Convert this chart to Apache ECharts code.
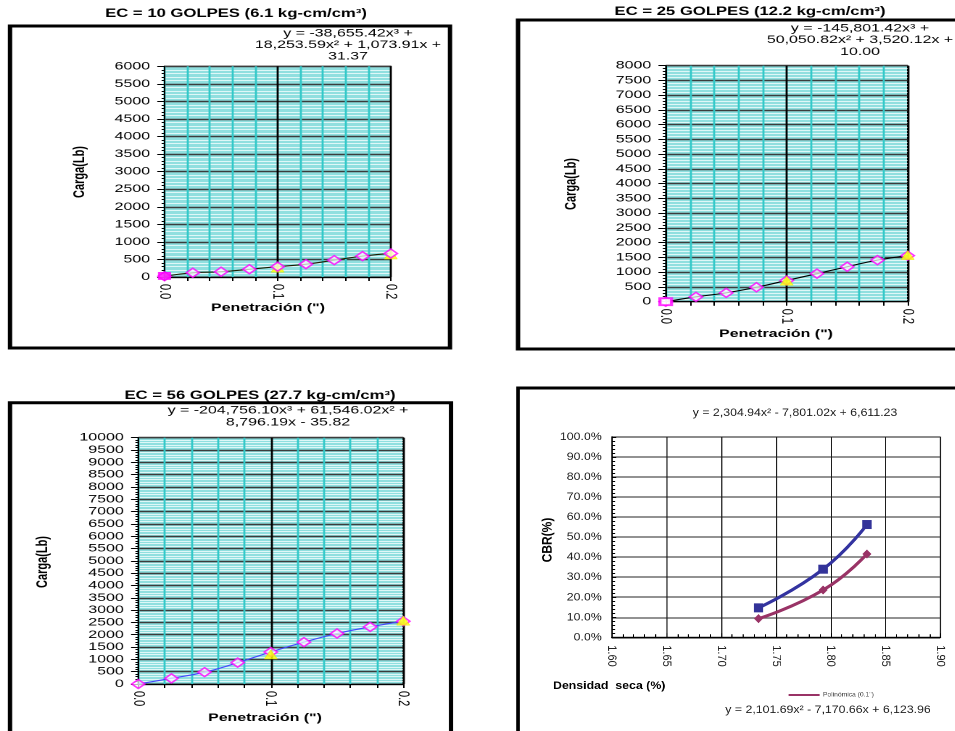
<!DOCTYPE html>
<html>
<head>
<meta charset="utf-8">
<script src="https://cdn.jsdelivr.net/npm/echarts@6/dist/echarts.min.js"></script>
<style>
  html, body { margin: 0; padding: 0; background: #fff; width: 955px; height: 731px; overflow: hidden; }
  .panel { position: absolute; left: 0; top: 0; height: 731px; transform-origin: 0 0; }
</style>
</head>
<body>
<div id="p10" class="panel"></div>
<div id="p25" class="panel"></div>
<div id="p56" class="panel"></div>
<div id="pcbr" class="panel"></div>
<script>
// Penetration readings (in) for the three compaction energies
const penetration = [0, 0.025, 0.05, 0.075, 0.1, 0.125, 0.15, 0.175, 0.2];
// Load (lb) read at each penetration
const carga10 = [20, 120, 150, 220, 295, 365, 480, 595, 670];
const carga25 = [0, 165, 300, 490, 720, 950, 1185, 1410, 1560];
const carga56 = [0, 230, 480, 866, 1300, 1700, 2050, 2320, 2550];
// Corrected loads at the standard penetrations 0.1" and 0.2"
const penStandard = [0.1, 0.2];
const corr10 = [265, 640];
const corr25 = [710, 1580];
const corr56 = [1200, 2570];
// Origin reading
const origen10 = [0, 30];
const origen25 = [0, 0];
// CBR versus dry density
const densidadSeca = [1.734, 1.793, 1.833];
const cbr02 = [0.147, 0.340, 0.563];
const cbr01 = [0.093, 0.236, 0.416];
// Tick labels shown on the penetration axis
const penTickLabels = ['0.0', '0.1', '0.2'];

const FONT = '"Liberation Sans", Arial, Helvetica, sans-serif';

function txt(text, x, y, size, bold, extra) {
  const st = Object.assign({
    text: text, x: 0, y: 0,
    font: (bold ? 'bold ' : '') + size + 'px ' + FONT,
    fill: '#000',
    align: 'center', verticalAlign: 'middle',
    textAlign: 'center', textVerticalAlign: 'middle'
  }, extra || {});
  return { type: 'text', x: x, y: y, z: 100, style: st };
}

function penChart(id, s, p) {
  const el = document.getElementById(id);
  el.style.width = (955 / s) + 'px';
  el.style.transform = 'scaleX(' + s + ')';
  const chart = echarts.init(el, null, { renderer: 'canvas', devicePixelRatio: 2 });
  const X = v => v / s;

  const vColors = Array.from({ length: 11 }, (_, i) => (i === 5 || i === 10) ? '#000' : '#33c9c9');

  const graphic = [
    { type: 'rect', z: 100, shape: { x: X(p.frame[0]), y: p.frame[1], width: X(p.frame[2]), height: p.frame[3] },
      style: { fill: 'none', stroke: '#000', lineWidth: 3 } },
    txt(p.title, X(p.titlePos[0]), p.titlePos[1], 11.5, true),
    txt('Carga(Lb)', X(p.yTitle[0]), p.yTitle[1], 11, true, {}),
    txt('Penetración (")', X(p.xTitle[0]), p.xTitle[1], 11, true)
  ];
  graphic[2].rotation = Math.PI / 2;
  p.eq.forEach((line, i) => graphic.push(txt(line, X(p.eqPos[0]), p.eqPos[1][i], 11, false)));

  const series = [
    {
      type: 'line', name: 'tendencia', smooth: true, showSymbol: false, symbol: 'none', z: 2,
      data: penetration.map((x, i) => [x, p.carga[i]]),
      lineStyle: { color: p.lineColor, width: 1.1 }
    },
    {
      type: 'scatter', name: 'corregida', z: p.triOnTop ? 6 : 3,
      symbol: 'triangle', symbolSize: [9, 9],
      data: penStandard.map((x, i) => [x, p.corr[i]]),
      itemStyle: { color: '#ffff00', borderColor: '#e6e600', borderWidth: 0.5 }
    },
    {
      type: 'scatter', name: 'lectura', z: 4,
      symbol: 'diamond', symbolSize: [9, 9],
      data: penetration.map((x, i) => [x, p.carga[i]]),
      itemStyle: { color: 'rgba(255,255,255,0.9)', borderColor: '#ff00ff', borderWidth: 1.4 }
    }
  ];
  if (p.origen) {
    series.push({
      type: 'scatter', name: 'origen', z: 5, symbol: 'rect', symbolSize: [8, 7],
      data: [p.origen],
      itemStyle: p.origenFilled
        ? { color: '#ff00ff', borderColor: '#ff00ff', borderWidth: 1 }
        : { color: '#fff', borderColor: '#ff00ff', borderWidth: 2 }
    });
  }

  chart.setOption({
    animation: false,
    backgroundColor: 'transparent',
    graphic: graphic,
    grid: {
      left: X(p.grid[0]), top: p.grid[1], width: X(p.grid[2]), height: p.grid[3],
      show: true, backgroundColor: '#90dfdf', borderColor: '#000', borderWidth: 1,
      outerBoundsMode: 'none', containLabel: false
    },
    xAxis: {
      type: 'value', min: 0, max: 0.2, interval: 0.02,
      axisLine: { show: true, onZero: false, lineStyle: { color: '#000', width: 1 } },
      axisTick: { show: true, length: 4, lineStyle: { color: '#000' } },
      axisLabel: {
        rotate: -90, margin: 7, fontSize: 11, fontFamily: FONT, color: '#000',
        formatter: v => {
          const k = Math.round(v * 10);
          return Math.abs(v * 10 - k) < 1e-6 ? penTickLabels[k] : '';
        }
      },
      splitLine: { show: true, lineStyle: { color: vColors, width: 1.4 } }
    },
    yAxis: {
      type: 'value', min: 0, max: p.ymax, interval: 500,
      axisLine: { show: true, lineStyle: { color: '#000', width: 1 } },
      axisTick: { show: true, length: 5, lineStyle: { color: '#000' } },
      minorTick: { show: true, splitNumber: 5, length: 2, lineStyle: { color: '#000' } },
      axisLabel: { margin: 10, fontSize: 11, fontFamily: FONT, color: '#000', formatter: v => String(v) },
      splitLine: { show: true, lineStyle: { color: '#3c3c3c', width: 1.4 } },
      minorSplitLine: { show: true, lineStyle: { color: '#def7f7', width: 1.1 } }
    },
    series: series
  });
}

penChart('p10', 1.45, {
  frame: [10, 26, 440, 322],
  title: 'EC = 10 GOLPES (6.1 kg-cm/cm³)', titlePos: [236, 14],
  eq: ['y = -38,655.42x³ +', '18,253.59x² + 1,073.91x +', '31.37'], eqPos: [348, [33.5, 44.8, 56.5]],
  grid: [164.5, 66.3, 226.3, 210.7], ymax: 6000,
  yTitle: [80, 172], xTitle: [268, 308],
  carga: carga10, corr: corr10, lineColor: '#1c1c00', triOnTop: false,
  origen: origen10, origenFilled: true
});

penChart('p25', 1.45, {
  frame: [518, 20, 500, 329],
  title: 'EC = 25 GOLPES (12.2 kg-cm/cm³)', titlePos: [750, 12],
  eq: ['y = -145,801.42x³ +', '50,050.82x² + 3,520.12x +', '10.00'], eqPos: [860, [28.5, 39.8, 52]],
  grid: [665.7, 65.7, 242, 236], ymax: 8000,
  yTitle: [571, 184], xTitle: [776, 334],
  carga: carga25, corr: corr25, lineColor: '#000', triOnTop: true,
  origen: origen25, origenFilled: false
});

penChart('p56', 1.45, {
  frame: [10, 402.7, 441, 400],
  title: 'EC = 56 GOLPES (27.7 kg-cm/cm³)', titlePos: [260, 396],
  eq: ['y = -204,756.10x³ + 61,546.02x² +', '8,796.19x - 35.82'], eqPos: [288, [410.5, 422.3]],
  grid: [138.3, 437.7, 265, 246.3], ymax: 10000,
  yTitle: [43, 562], xTitle: [265, 718],
  carga: carga56, corr: corr56, lineColor: '#4646ff', triOnTop: true,
  origen: null
});

// CBR versus dry density
(function () {
  const s = 1.12;
  const el = document.getElementById('pcbr');
  el.style.width = (955 / s) + 'px';
  el.style.transform = 'scaleX(' + s + ')';
  const chart = echarts.init(el, null, { renderer: 'canvas', devicePixelRatio: 2 });
  const X = v => v / s;
  const yTitle = txt('CBR(%)', X(548), 540, 12, true);
  yTitle.rotation = Math.PI / 2;
  chart.setOption({
    animation: false,
    backgroundColor: 'transparent',
    graphic: [
      { type: 'rect', z: 100, shape: { x: X(518), y: 388, width: X(500), height: 400 },
        style: { fill: 'none', stroke: '#000', lineWidth: 3 } },
      txt('y = 2,304.94x² - 7,801.02x + 6,611.23', X(795), 413, 11, false, { fill: '#222' }),
      txt('y = 2,101.69x² - 7,170.66x + 6,123.96', X(828), 710, 11, false, { fill: '#222' }),
      yTitle,
      txt('Densidad  seca (%)', X(553), 686, 11, true, { align: 'left', textAlign: 'left' })
    ],
    legend: {
      show: true, left: X(783), top: 687, itemWidth: X(31), itemHeight: 2, itemGap: 4,
      icon: 'rect',
      data: ['Polinómica (0.1")'],
      textStyle: { fontSize: 6, fontFamily: FONT, color: '#444', padding: [0, 0, 0, -2] }
    },
    grid: {
      left: X(611.7), top: 437, width: X(328.6), height: 200.3,
      show: true, backgroundColor: '#fff', borderColor: '#8a8a8a', borderWidth: 1.2,
      outerBoundsMode: 'none', containLabel: false
    },
    xAxis: {
      type: 'value', min: 1.6, max: 1.9, interval: 0.05,
      axisLine: { show: true, onZero: false, lineStyle: { color: '#000', width: 1.2 } },
      axisTick: { show: true, inside: true, length: 4, lineStyle: { color: '#000' } },
      minorTick: { show: true, splitNumber: 5, length: 3, lineStyle: { color: '#000' } },
      axisLabel: {
        rotate: -90, margin: 8, fontSize: 11, fontFamily: FONT, color: '#222',
        formatter: v => v.toFixed(2)
      },
      splitLine: { show: true, lineStyle: { color: '#1e1e1e', width: 1 } }
    },
    yAxis: {
      type: 'value', min: 0, max: 1, interval: 0.1,
      axisLine: { show: true, lineStyle: { color: '#000', width: 1.2 } },
      axisTick: { show: true, inside: true, length: 4, lineStyle: { color: '#000' } },
      minorTick: { show: true, splitNumber: 5, length: 3, lineStyle: { color: '#000' } },
      axisLabel: {
        margin: X(10), fontSize: 11, fontFamily: FONT, color: '#222',
        formatter: v => (v * 100).toFixed(1) + '%'
      },
      splitLine: { show: true, lineStyle: { color: '#6e6e6e', width: 1.5 } }
    },
    series: [
      {
        type: 'line', name: 'CBR (0.2")', smooth: true, z: 3,
        symbol: 'rect', symbolSize: [X(9.5), 9],
        data: densidadSeca.map((x, i) => [x, cbr02[i]]),
        itemStyle: { color: '#333399' },
        lineStyle: { color: '#3333a0', width: 3 }
      },
      {
        type: 'line', name: 'Polinómica (0.1")', smooth: true, z: 3,
        symbol: 'diamond', symbolSize: [X(9), 9],
        data: densidadSeca.map((x, i) => [x, cbr01[i]]),
        itemStyle: { color: '#993366' },
        lineStyle: { color: '#993366', width: 3 }
      }
    ]
  });
})();
</script>
</body>
</html>
